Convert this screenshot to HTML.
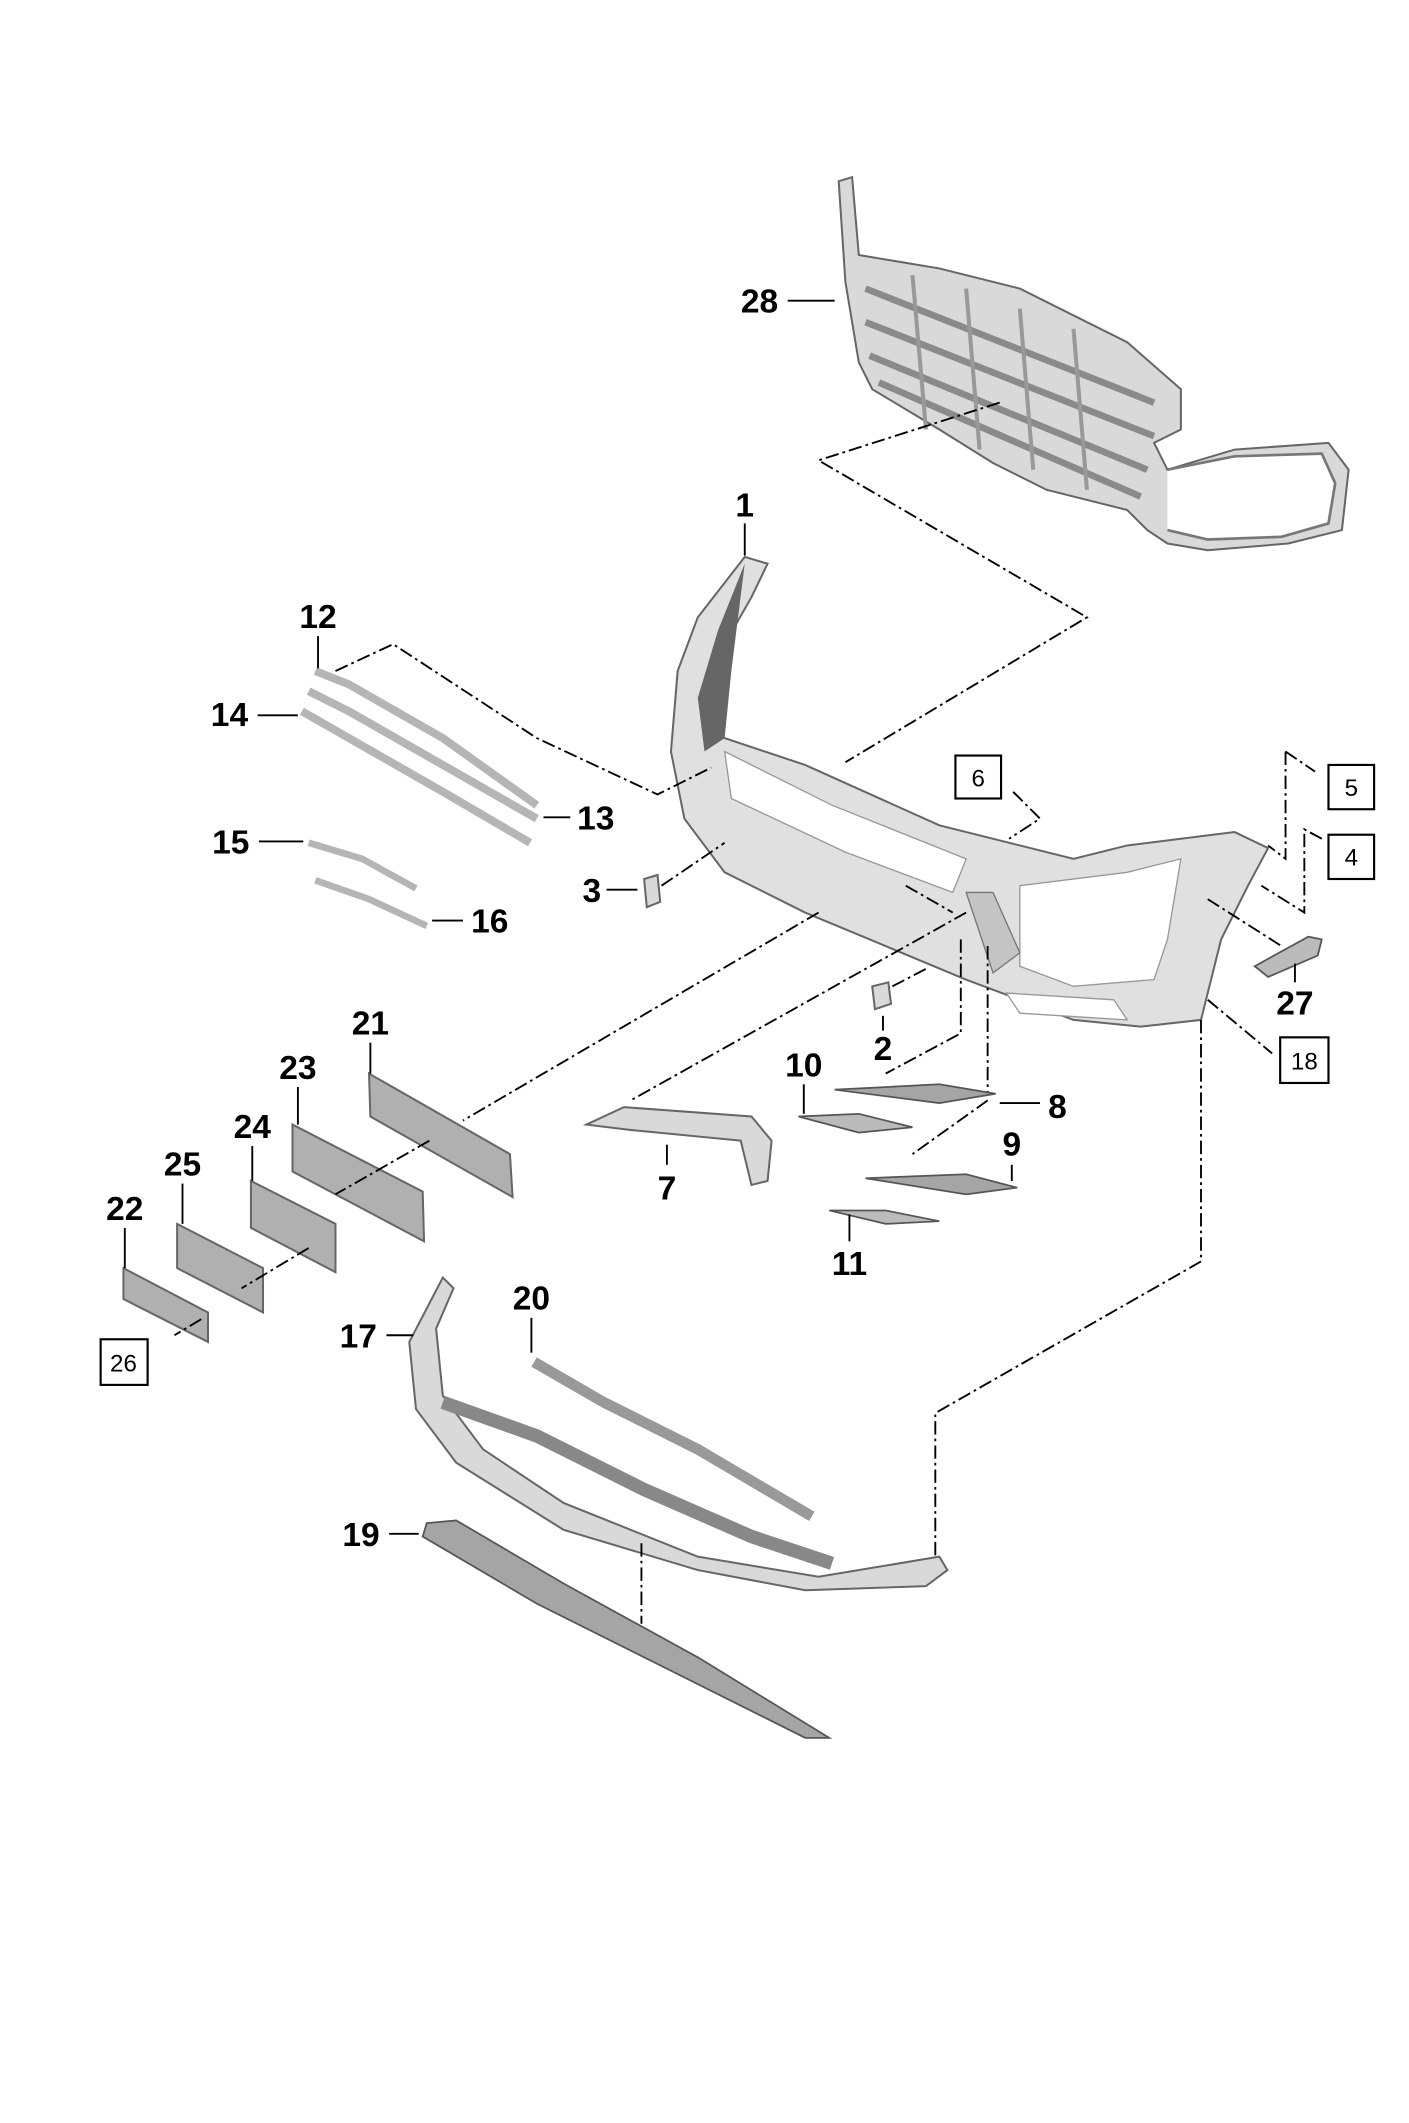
<!DOCTYPE html>
<html><head><meta charset="utf-8"><style>
html,body{margin:0;padding:0;background:#fff;}
svg{display:block;}
.l{font-family:"Liberation Sans",sans-serif;font-weight:bold;font-size:25px;fill:#000;text-anchor:middle;}
.b{font-family:"Liberation Sans",sans-serif;font-size:18px;fill:#000;text-anchor:middle;}
.ln{stroke:#000;stroke-width:1.4;fill:none;}
.dd{stroke:#000;stroke-width:1.4;fill:none;stroke-dasharray:10 3 2 3;}
.p{fill:#d9d9d9;stroke:#666;stroke-width:1.5;}
.d{fill:#a5a5a5;stroke:#555;stroke-width:1.3;}
.bx{fill:#fff;stroke:#000;stroke-width:1.6;}
</style></head><body>
<svg width="1409" height="2123" viewBox="0 0 1050 1582" xmlns="http://www.w3.org/2000/svg">
<!-- 28 grille frame -->
<g>
<path class="p" d="M625 135 L635 132 L640 190 L700 200 L760 215 L840 255 L880 290 L880 320 L860 330 L870 350 L920 335 L990 330 L1005 350 L1000 395 L960 405 L900 410 L870 405 L855 395 L840 380 L780 365 L740 345 L700 320 L650 290 L640 270 L630 210 Z" />
<path d="M645 215 L860 300 M645 240 L860 325 M648 265 L855 350 M655 285 L850 370" stroke="#8a8a8a" stroke-width="5" fill="none"/>
<path d="M870 350 L920 340 L985 338 L995 360 L990 390 L955 400 L900 402 L870 395" fill="#fff" stroke="#777" stroke-width="2"/>
<path d="M680 205 L690 320 M720 215 L730 335 M760 230 L770 350 M800 245 L810 365" stroke="#999" stroke-width="3"/>
</g>
<text class="l" x="566" y="233">28</text>
<path class="ln" d="M587 224 L622 224"/>
<path class="dd" d="M745 300 L610 343 L810 460 L630 568"/>

<!-- 1 bumper -->
<path class="p" d="M555 415 L572 420 L560 445 L540 480 L535 500 L525 545 L600 570 L700 615 L760 630 L800 640 L840 630 L880 625 L920 620 L945 632 L930 660 L910 700 L900 740 L895 760 L850 765 L800 760 L760 745 L720 730 L660 705 L600 680 L540 650 L510 610 L500 560 L505 500 L520 460 Z" style="fill:#e0e0e0"/>
<path d="M555 420 L535 470 L520 520 L525 560 L540 550 L545 500 Z" fill="#666"/>
<path d="M540 560 L620 600 L720 640 L710 665 L630 635 L545 595 Z" fill="#fff" stroke="#999"/>
<path d="M760 660 L840 650 L880 640 L870 700 L860 730 L800 735 L760 720 Z" fill="#fff" stroke="#999"/>
<path d="M750 740 L830 745 L840 760 L760 755 Z" fill="#fff" stroke="#999"/>
<path d="M720 665 L740 665 L760 710 L740 725 Z" fill="#c4c4c4" stroke="#777"/>
<text class="l" x="555" y="385">1</text>
<path class="ln" d="M555 390 L555 414"/>
<rect class="bx" x="712" y="563" width="34" height="32"/><text class="b" x="729" y="586">6</text>
<path class="dd" d="M755 590 L775 610 L752 625"/>
<rect class="bx" x="990" y="570" width="34" height="33"/><text class="b" x="1007" y="593">5</text>
<rect class="bx" x="990" y="622" width="34" height="33"/><text class="b" x="1007" y="645">4</text>
<path class="dd" d="M958 560 L980 575 M958 560 L958 640 L945 630"/>
<path class="dd" d="M985 625 L972 618 L972 680 L940 660"/>
<rect class="bx" x="954" y="773" width="36" height="34"/><text class="b" x="972" y="797">18</text>
<path class="dd" d="M900 745 L948 785"/>
<path class="d" d="M935 720 L975 698 L985 700 L982 712 L945 728 Z" style="fill:#bbb"/>
<path class="dd" d="M900 670 L955 705"/>
<text class="l" x="965" y="756">27</text><path class="ln" d="M965 718 L965 732"/>
<path class="p" d="M480 655 L490 652 L492 672 L482 676 Z"/>
<text class="l" x="441" y="672">3</text><path class="ln" d="M452 663 L475 663"/>
<path class="dd" d="M493 660 L540 628"/>
<path class="p" d="M650 735 L662 732 L664 748 L652 752 Z"/>
<text class="l" x="658" y="790">2</text><path class="ln" d="M658 757 L658 768"/>
<path class="dd" d="M665 735 L690 722"/>
<path d="M235 500 L260 510 L330 550 L400 600" stroke="#b5b5b5" stroke-width="6" fill="none"/>
<path d="M230 515 L260 530 L330 570 L400 610" stroke="#b5b5b5" stroke-width="6" fill="none"/>
<path d="M225 530 L260 550 L330 590 L395 628" stroke="#b5b5b5" stroke-width="6" fill="none"/>
<text class="l" x="237" y="468">12</text><path class="ln" d="M237 474 L237 498"/>
<text class="l" x="171" y="541">14</text><path class="ln" d="M192 533 L222 533"/>
<text class="l" x="444" y="618">13</text><path class="ln" d="M405 609 L425 609"/>
<path class="dd" d="M250 500 L293 480 L400 550 L490 592 L530 572"/>
<path d="M230 628 L270 640 L310 662" stroke="#b5b5b5" stroke-width="5" fill="none"/>
<path d="M235 656 L275 670 L318 690" stroke="#b5b5b5" stroke-width="5" fill="none"/>
<text class="l" x="172" y="636">15</text><path class="ln" d="M193 627 L226 627"/>
<text class="l" x="365" y="695">16</text><path class="ln" d="M322 686 L345 686"/>
<path class="dd" d="M610 680 L345 835"/>
<path class="dd" d="M720 680 L470 820"/>
<path class="dd" d="M675 660 L710 680 M716 700 L716 770 L660 800"/>
<path class="dd" d="M736 705 L736 815"/>
<path class="dd" d="M736 820 L680 860"/>
<path class="dd" d="M895 760 L895 940 L697 1053 L697 1160"/>
<path class="p" d="M437 838 L465 825 L560 832 L575 850 L572 880 L560 883 L552 850 L470 842 Z"/>
<text class="l" x="497" y="894">7</text><path class="ln" d="M497 853 L497 868"/>
<path class="d" d="M622 812 L700 808 L742 815 L700 822 Z"/>
<path class="d" d="M595 832 L640 830 L680 840 L640 844 Z" style="fill:#bbb"/>
<path class="d" d="M645 878 L720 875 L758 885 L720 890 Z"/>
<path class="d" d="M618 902 L660 902 L700 910 L660 912 Z" style="fill:#bbb"/>
<text class="l" x="599" y="802">10</text><path class="ln" d="M599 808 L599 830"/>
<text class="l" x="788" y="833">8</text><path class="ln" d="M745 822 L775 822"/>
<text class="l" x="754" y="861">9</text><path class="ln" d="M754 868 L754 880"/>
<text class="l" x="633" y="950">11</text><path class="ln" d="M633 905 L633 925"/>
<path class="p" d="M275 800 L380 860 L382 892 L276 832 Z" style="fill:#b0b0b0"/>
<path class="p" d="M218 838 L315 888 L316 925 L218 873 Z" style="fill:#b0b0b0"/>
<path class="p" d="M187 880 L250 912 L250 948 L187 915 Z" style="fill:#b0b0b0"/>
<path class="p" d="M132 912 L196 945 L196 978 L132 945 Z" style="fill:#b0b0b0"/>
<path class="p" d="M92 945 L155 978 L155 1000 L92 968 Z" style="fill:#b0b0b0"/>
<text class="l" x="276" y="771">21</text><path class="ln" d="M276 777 L276 800"/>
<text class="l" x="222" y="804">23</text><path class="ln" d="M222 810 L222 838"/>
<text class="l" x="188" y="848">24</text><path class="ln" d="M188 854 L188 880"/>
<text class="l" x="136" y="876">25</text><path class="ln" d="M136 882 L136 912"/>
<text class="l" x="93" y="909">22</text><path class="ln" d="M93 915 L93 945"/>
<path class="dd" d="M320 850 L250 890 M230 930 L180 960 M150 983 L130 995"/>
<rect class="bx" x="75" y="998" width="35" height="34"/><text class="b" x="92" y="1022">26</text>
<path class="p" d="M330 952 L338 960 L325 990 L330 1040 L360 1080 L420 1120 L520 1160 L610 1175 L700 1160 L706 1170 L690 1182 L600 1185 L520 1170 L420 1140 L340 1090 L310 1050 L305 1000 Z"/>
<path d="M330 1045 L400 1070 L480 1110 L560 1145 L620 1165" stroke="#888" stroke-width="10" fill="none"/>
<text class="l" x="267" y="1004">17</text><path class="ln" d="M288 995 L308 995"/>
<path d="M398 1015 L450 1045 L520 1080 L605 1130" stroke="#999" stroke-width="8" fill="none"/>
<text class="l" x="396" y="976">20</text><path class="ln" d="M396 982 L396 1008"/>
<path class="d" d="M318 1135 L340 1133 L420 1180 L520 1235 L618 1295 L600 1295 L500 1245 L400 1195 L315 1145 Z"/>
<text class="l" x="269" y="1152">19</text><path class="ln" d="M290 1143 L312 1143"/>
<path class="dd" d="M478 1150 L478 1210"/>
</svg>
</body></html>
